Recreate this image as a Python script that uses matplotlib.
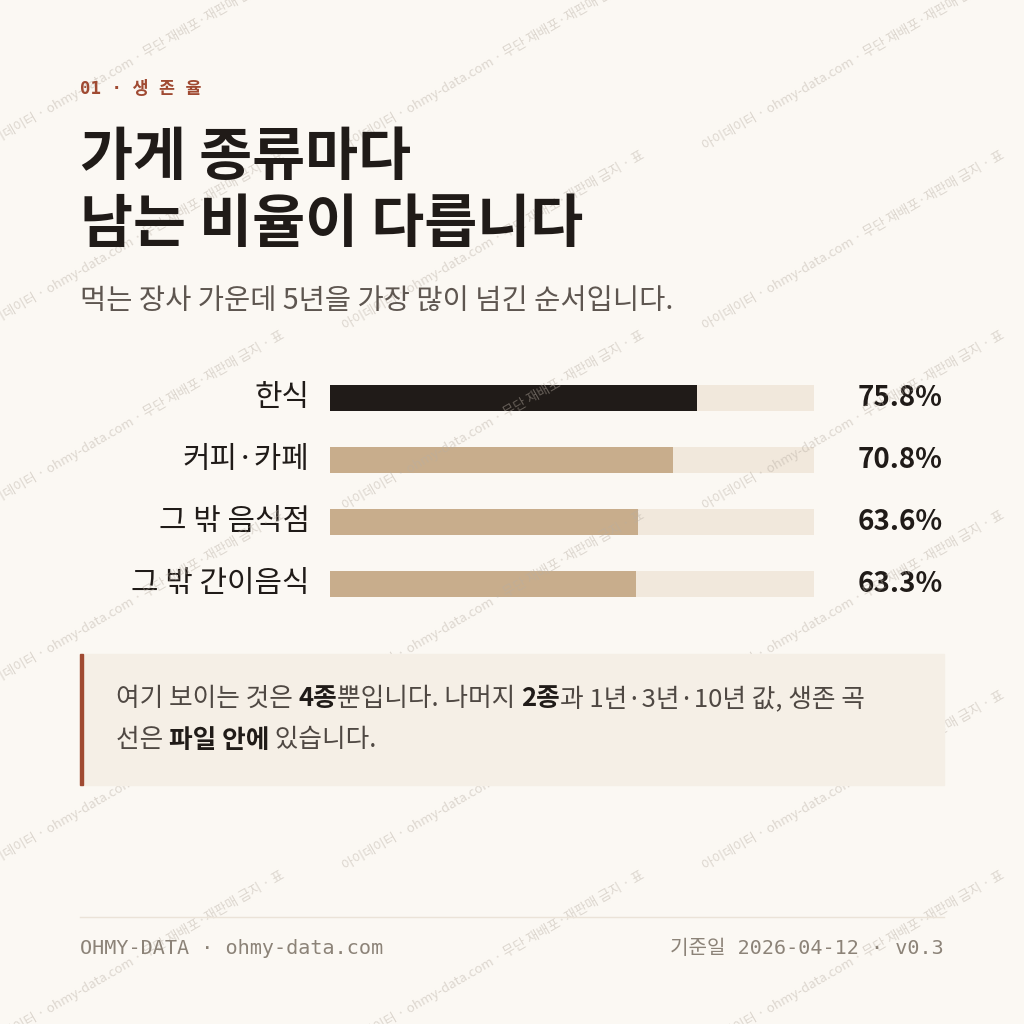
import matplotlib
matplotlib.use("Agg")
import matplotlib.pyplot as plt
from matplotlib.patches import Rectangle

categories = ["한식", "커피·카페", "그 밖 음식점", "그 밖 간이음식"]
survival = [75.8, 70.8, 63.6, 63.3]
bar_colors = ["#201b18", "#c8ad8c", "#c8ad8c", "#c8ad8c"]

BG = "#fbf8f3"
KR = ["Noto Sans CJK KR", "DejaVu Sans"]
MONO = ["DejaVu Sans Mono", "Noto Sans CJK KR"]

fig = plt.figure(figsize=(10.24, 10.24), dpi=100, facecolor=BG)


def px(x, y):
    return x / 1024, 1 - y / 1024


# watermark
wm = "아이데이터 · ohmy-data.com · 무단 재배포·재판매 금지 · 표"
for row in range(-2, 8):
    for col in range(-1, 4):
        x = col * 360 - 20
        y = row * 180 + 60
        fig.text(*px(x, y), wm, rotation=30, fontsize=9.5, family=KR,
                 color="#b8aea3", alpha=0.45, ha="left", va="center", zorder=0)

fig.text(*px(80, 89), "01 · 생 존 율", family=MONO, fontsize=12.5, color="#a04a32",
         fontweight="bold", va="center")
fig.text(*px(80, 158), "가게 종류마다", family=KR, fontsize=41.5, fontweight="bold",
         color="#201b18", va="center")
fig.text(*px(80, 225), "남는 비율이 다릅니다", family=KR, fontsize=41.5, fontweight="bold",
         color="#201b18", va="center")
fig.text(*px(80, 301), "먹는 장사 가운데 5년을 가장 많이 넘긴 순서입니다.", family=KR,
         fontsize=20.5, color="#5e5650", va="center")

# bars
ax = fig.add_axes([330 / 1024, 1 - 615 / 1024, 484 / 1024, 248 / 1024])
ax.set_xlim(0, 100)
ax.set_ylim(len(categories) - 0.5, -0.5)
ax.axis("off")
ys = range(len(categories))
ax.barh(ys, [100] * len(categories), height=0.42, color="#f1e8dc", zorder=1)
ax.barh(ys, survival, height=0.42, color=bar_colors, zorder=2)
for i, (name, val) in enumerate(zip(categories, survival)):
    ax.text(-4.2, i, name, ha="right", va="center", family=KR, fontsize=21.5,
            color="#201b18")
    ax.text(126.6, i, f"{val:.1f}%", ha="right", va="center", family=KR, fontsize=20,
            fontweight="bold", color="#201b18")

# callout box
fig.add_artist(Rectangle(px(80, 785), 864 / 1024, 131 / 1024,
                         transform=fig.transFigure, color="#f5efe6", zorder=1))
fig.add_artist(Rectangle(px(80, 785), 3 / 1024, 131 / 1024,
                         transform=fig.transFigure, color="#a04a32", zorder=2))

fig.canvas.draw()
renderer = fig.canvas.get_renderer()


def runs(x, y, parts):
    for s, bold in parts:
        t = fig.text(*px(x, y), s, family=KR, fontsize=18.5,
                     fontweight="bold" if bold else "normal",
                     color="#201b18" if bold else "#4f4843", va="center", zorder=3)
        x += t.get_window_extent(renderer).width


runs(116, 699, [("여기 보이는 것은 ", False), ("4종", True), ("뿐입니다. 나머지 ", False),
                ("2종", True), ("과 1년·3년·10년 값, 생존 곡", False)])
runs(116, 740, [("선은 ", False), ("파일 안에", True), (" 있습니다.", False)])

fig.add_artist(plt.Line2D([80 / 1024, 944 / 1024], [1 - 917 / 1024] * 2,
                          transform=fig.transFigure, color="#ebe3d8", lw=1))
fig.text(*px(80, 948), "OHMY-DATA · ohmy-data.com", family=MONO, fontsize=14.5,
         color="#8c8378", va="center")
fig.text(*px(944, 948), "기준일 2026-04-12 · v0.3", family=MONO, fontsize=14.5,
         color="#8c8378", va="center", ha="right")

fig.savefig("out.png", dpi=100, facecolor=BG)
